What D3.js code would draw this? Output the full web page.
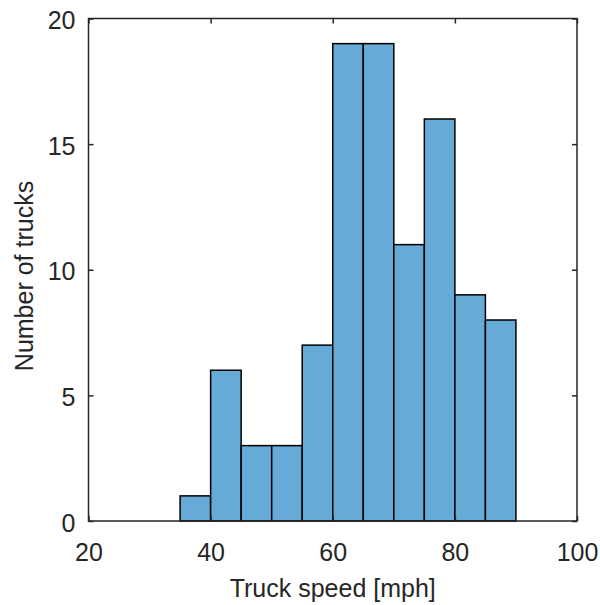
<!DOCTYPE html>
<meta charset="utf-8">
<title>Truck speed histogram</title>
<style>
body { margin: 0; background: #fff; }
text { font-family: "Liberation Sans", Arial, sans-serif; fill: #262626; }
.bar { fill: rgb(102,170,215); stroke: #000; stroke-width: 1.5; }
</style>
<body>
<script src="https://d3js.org/d3.v7.min.js"></script>
<script>

// bin edges (mph) and counts
var binStarts = [30, 35, 40, 45, 50, 55, 60, 65, 70, 75, 80, 85];
var binWidth = 5;
var counts = [0, 1, 6, 3, 3, 7, 19, 19, 11, 16, 9, 8];
var xTicks = [20, 40, 60, 80, 100];
var yTicks = [0, 5, 10, 15, 20];

var width = 600, height = 605;
var margin = {top: 18.5, right: 23, bottom: 84, left: 88.5};

var svg = d3.select("body").append("svg")
    .attr("width", width)
    .attr("height", height);

var x = d3.scaleLinear().domain([20, 100]).range([margin.left, width - margin.right]);
var y = d3.scaleLinear().domain([0, 20]).range([height - margin.bottom, margin.top]);

// bars
svg.append("g").selectAll("rect")
    .data(binStarts)
  .enter().append("rect")
    .attr("class", "bar")
    .attr("x", function(d) { return x(d); })
    .attr("width", function(d) { return x(d + binWidth) - x(d); })
    .attr("y", function(d, i) { return y(counts[i]); })
    .attr("height", function(d, i) { return y(0) - y(counts[i]); });

// box
svg.append("rect")
    .attr("x", x(20))
    .attr("y", y(20))
    .attr("width", x(100) - x(20))
    .attr("height", y(0) - y(20))
    .style("fill", "none")
    .style("stroke", "#262626")
    .style("stroke-width", 1.5);

// axes with inner ticks
var tickLen = 5;
var xb = svg.append("g").attr("transform", "translate(0," + y(0) + ")")
    .call(d3.axisBottom(x).tickValues(xTicks).tickSize(-tickLen).tickPadding(22));
var xt = svg.append("g").attr("transform", "translate(0," + y(20) + ")")
    .call(d3.axisTop(x).tickValues(xTicks).tickSize(-tickLen).tickFormat(""));
var yl = svg.append("g").attr("transform", "translate(" + x(20) + ",0)")
    .call(d3.axisLeft(y).tickValues(yTicks).tickSize(-tickLen).tickPadding(13));
var yr = svg.append("g").attr("transform", "translate(" + x(100) + ",0)")
    .call(d3.axisRight(y).tickValues(yTicks).tickSize(-tickLen).tickFormat(""));

[xb, xt, yl, yr].forEach(function(g) {
  g.select(".domain").remove();
  g.selectAll("line").style("stroke", "#262626").style("stroke-width", 1.5);
  g.selectAll("text").style("font-size", "25px").style("fill", "#262626")
    .style("font-family", "'Liberation Sans', Arial, sans-serif");
});
yl.selectAll("text").attr("dy", "0.4em");

// labels
svg.append("text")
    .attr("x", (x(20) + x(100)) / 2)
    .attr("y", 597)
    .attr("text-anchor", "middle")
    .style("font-size", "25px")
    .text("Truck speed [mph]");

svg.append("text")
    .attr("transform", "translate(33,276) rotate(-90)")
    .attr("text-anchor", "middle")
    .style("font-size", "25px")
    .text("Number of trucks");

</script>
</body>
